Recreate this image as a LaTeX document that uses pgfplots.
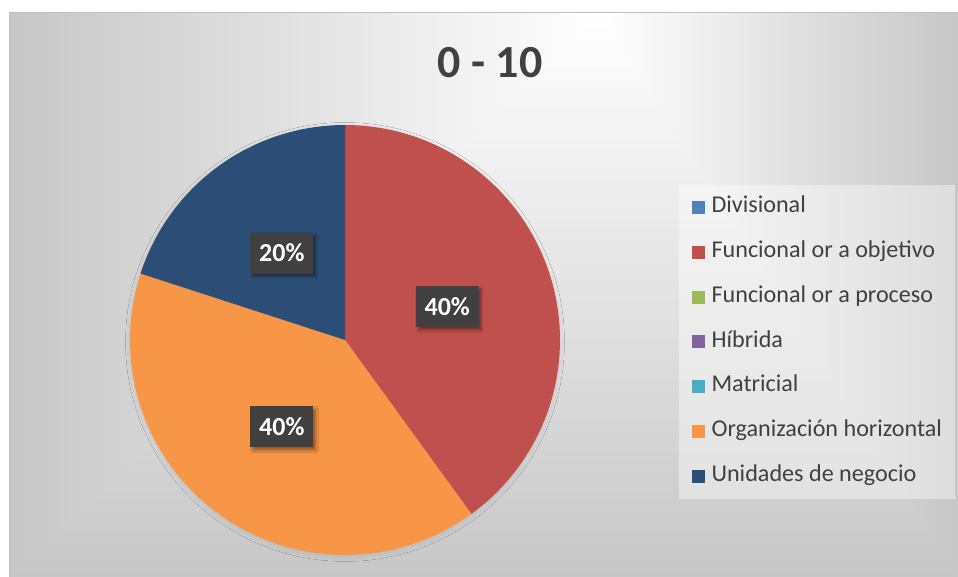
\documentclass[border=0pt]{standalone}
\usepackage{pgfplots}
\pgfplotsset{compat=1.18}
\usepackage{pgfplotstable}
\usepackage{fontspec}
\setmainfont{Carlito}
\usetikzlibrary{shadows.blur}
\definecolor{cDiv}{HTML}{4F81BD}
\definecolor{cObj}{HTML}{C0504D}
\definecolor{cPro}{HTML}{9BBB59}
\definecolor{cHib}{HTML}{8064A2}
\definecolor{cMat}{HTML}{4BACC6}
\definecolor{cOrg}{HTML}{F79646}
\definecolor{cUni}{HTML}{2C4D75}
\definecolor{cTxt}{HTML}{404040}
\pgfplotstableread{
value
0
40
0
0
0
40
20
}\piedata
\pgfdeclarefunctionalshading{bgshade}{\pgfpointorigin}{\pgfpoint{100bp}{100bp}}{}{
  75 exch sub 50 div
  exch 25 sub 50 div 0.6222 sub
  dup 0 lt {neg 0.6222 div} {0.3778 div} ifelse
  2 copy lt {exch} if pop
  dup 1 gt {pop 1} if
  0.22 mul neg 1 add
  dup dup
}
\tikzset{lbl/.style={fill=cTxt, text=white, font=\fontsize{19.5}{22}\selectfont\bfseries,
    minimum width=47.25pt, minimum height=30.75pt, inner sep=0pt,
    blur shadow={shadow xshift=2pt, shadow yshift=-2pt, shadow opacity=40, shadow blur steps=6}}}
\begin{document}
\begin{tikzpicture}[x=0.75pt,y=0.75pt]
\pgfplotstablegetelem{1}{value}\of\piedata \let\vB\pgfplotsretval
\pgfplotstablegetelem{5}{value}\of\piedata \let\vF\pgfplotsretval
\pgfplotstablegetelem{6}{value}\of\piedata \let\vG\pgfplotsretval
\pgfmathsetmacro\aA{90}
\pgfmathsetmacro\aB{\aA-3.6*\vB}
\pgfmathsetmacro\aC{\aB-3.6*\vF}
\pgfmathsetmacro\aD{\aC-3.6*\vG}
\pgfmathsetmacro\mB{(\aA+\aB)/2}
\pgfmathsetmacro\mF{(\aB+\aC)/2}
\pgfmathsetmacro\mG{(\aC+\aD)/2}
\path[use as bounding box] (0,0) rectangle (958,577);
\shade[shading=bgshade] (9.5,0) rectangle (958,564.5);
\draw[black!25, line width=0.75pt] (958,564.5) -- (9.5,564.5) -- (9.5,0);
\node[font=\fontsize{34.5}{40}\selectfont\bfseries, text=cTxt] at (490,514) {0 - 10};
\begin{axis}[
  at={(258.75pt,177.75pt)}, anchor=center,
  scale only axis, width=322.5pt, height=322.5pt,
  xmin=-1, xmax=1, ymin=-1, ymax=1,
  hide axis, clip=false,
  legend image code/.code={\fill[#1,draw=none,fill opacity=1] (0pt,-4.875pt) rectangle (9.75pt,4.875pt); \path[draw=none,fill=none] (0pt,0pt) -- (14.5pt,0pt);},
  legend cell align=left,
  legend style={at={(1.2767,0.8622)}, anchor=north west, draw=none,
    fill=white, fill opacity=0.4, text opacity=1,
    font=\fontsize{18.1}{20}\selectfont, text=cTxt,
    inner xsep=9.75pt, inner ysep=9.2pt, row sep=17.6pt,
    nodes={inner sep=0pt, text height=12pt, text depth=4pt}},
]
\path[blur shadow={shadow xshift=0pt, shadow yshift=-1.5pt, shadow scale=0.99, shadow opacity=12, shadow blur radius=5pt, shadow blur steps=10}] (axis cs:0,0) circle[radius=1];
\addlegendimage{fill=cDiv, draw=none}
\addlegendentry{Divisional}
\addplot[fill=cObj, draw=none, domain=\aB:\aA, samples=120, variable=\t] ({cos(\t)},{sin(\t)}) -- (axis cs:0,0) -- cycle;
\addlegendentry{Funcional or a objetivo}
\addlegendimage{fill=cPro, draw=none}
\addlegendentry{Funcional or a proceso}
\addlegendimage{fill=cHib, draw=none}
\addlegendentry{Híbrida}
\addlegendimage{fill=cMat, draw=none}
\addlegendentry{Matricial}
\addplot[fill=cOrg, draw=none, domain=\aC:\aB, samples=120, variable=\t] ({cos(\t)},{sin(\t)}) -- (axis cs:0,0) -- cycle;
\addlegendentry{Organización horizontal}
\addplot[fill=cUni, draw=none, domain=\aD:\aC, samples=80, variable=\t] ({cos(\t)},{sin(\t)}) -- (axis cs:0,0) -- cycle;
\addlegendentry{Unidades de negocio}
\node[lbl] at (axis cs:{0.5*cos(\mB)},{0.5*sin(\mB)}) {\vB\%};
\node[lbl] at (axis cs:{0.5*cos(\mF)},{0.5*sin(\mF)}) {\vF\%};
\node[lbl] at (axis cs:{0.5*cos(\mG)},{0.5*sin(\mG)}) {\vG\%};
\end{axis}
\end{tikzpicture}
\end{document}
